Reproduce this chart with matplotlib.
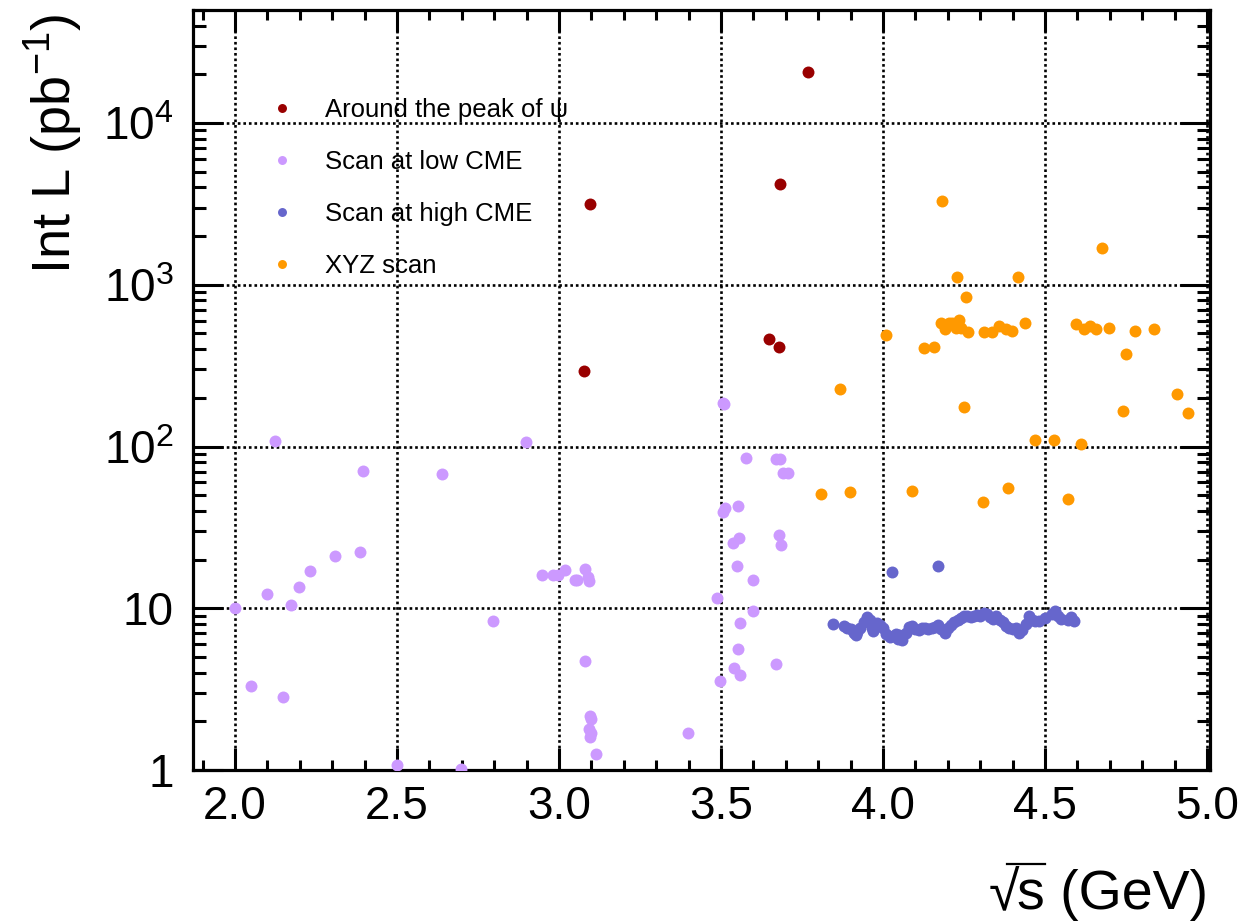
import matplotlib
matplotlib.use('Agg')
import matplotlib.pyplot as plt
from matplotlib.lines import Line2D
from matplotlib.ticker import MultipleLocator, LogLocator, FixedLocator, NullFormatter

plt.rcParams['font.family'] = ['Liberation Sans', 'DejaVu Sans']
plt.rcParams['mathtext.fontset'] = 'custom'
plt.rcParams['mathtext.rm'] = 'Liberation Sans'
plt.rcParams['mathtext.it'] = 'Liberation Sans:italic'
plt.rcParams['mathtext.bf'] = 'Liberation Sans:bold'

# ---------------- data ----------------
psi_x = [3.078, 3.096, 3.648, 3.680, 3.681, 3.768]
psi_y = [295, 3155, 462, 410, 4180, 20650]

low_x = [2.000, 2.049, 2.099, 2.124, 2.149, 2.174, 2.199, 2.230, 2.309, 2.386,
         2.394, 2.499, 2.639, 2.699, 2.797, 2.898, 2.948, 2.980, 2.998, 3.019,
         3.049, 3.057, 3.080, 3.080, 3.090, 3.092, 3.096, 3.098, 3.094, 3.100,
         3.097, 3.115, 3.398, 3.489, 3.497, 3.507, 3.512, 3.507, 3.509, 3.536,
         3.540, 3.548, 3.551, 3.552, 3.554, 3.557, 3.560, 3.577, 3.598, 3.598,
         3.670, 3.670, 3.680, 3.682, 3.685, 3.690, 3.708]
low_y = [10.0, 3.3, 12.2, 108, 2.83, 10.5, 13.6, 17.1, 21.0, 22.4,
         71, 1.08, 68, 1.01, 8.4, 106, 16.0, 16.0, 16.0, 17.3,
         14.9, 14.9, 17.5, 4.73, 15.5, 14.8, 2.16, 2.07, 1.80, 1.70,
         1.59, 1.25, 1.70, 11.6, 3.57, 39.6, 41.6, 185, 182, 25.5,
         4.28, 18.2, 5.56, 42.7, 27.3, 8.15, 3.88, 84.6, 14.9, 9.55,
         4.55, 83.7, 28.3, 83.7, 24.6, 69, 69]

high_x = [3.847, 3.880, 3.890, 3.900, 3.910, 3.915, 3.920, 3.930, 3.940, 3.950,
          3.960, 3.965, 3.970, 3.980, 3.990, 4.000, 4.010, 4.020, 4.029, 4.030,
          4.040, 4.045, 4.050, 4.060, 4.070, 4.080, 4.090, 4.100, 4.110, 4.120,
          4.130, 4.140, 4.150, 4.160, 4.169, 4.170, 4.180, 4.190, 4.200, 4.210,
          4.220, 4.230, 4.240, 4.250, 4.260, 4.270, 4.280, 4.290, 4.300, 4.310,
          4.320, 4.330, 4.340, 4.350, 4.360, 4.370, 4.380, 4.390, 4.400, 4.410,
          4.420, 4.430, 4.440, 4.450, 4.460, 4.470, 4.480, 4.500, 4.520, 4.530,
          4.540, 4.550, 4.570, 4.580, 4.590]
high_y = [7.95, 7.8, 7.6, 7.4, 7.0, 6.8, 7.1, 7.6, 8.2, 8.8,
          8.5, 7.6, 7.2, 8.1, 7.9, 7.5, 6.9, 6.6, 16.7, 6.7,
          6.9, 6.5, 6.8, 6.4, 7.0, 7.7, 7.8, 7.4, 7.3, 7.5,
          7.6, 7.4, 7.6, 7.7, 18.2, 7.9, 7.4, 7.0, 7.5, 7.9,
          8.2, 8.5, 8.7, 8.9, 9.0, 8.8, 8.9, 9.1, 9.0, 9.4,
          9.2, 8.8, 8.6, 8.9, 8.5, 8.2, 7.8, 7.5, 7.4, 7.6,
          7.0, 7.3, 8.0, 8.9, 8.5, 8.3, 8.4, 8.7, 9.2, 9.6,
          9.0, 8.6, 8.5, 8.8, 8.4]

xyz_x = [3.809, 3.868, 3.898, 4.008, 4.088, 4.127, 4.158, 4.182, 4.178, 4.190,
         4.203, 4.213, 4.226, 4.235, 4.228, 4.242, 4.250, 4.257, 4.262, 4.309,
         4.311, 4.336, 4.359, 4.378, 4.387, 4.398, 4.417, 4.439, 4.468, 4.528,
         4.572, 4.596, 4.610, 4.619, 4.639, 4.657, 4.676, 4.698, 4.740, 4.751,
         4.779, 4.837, 4.907, 4.940]
xyz_y = [50.6, 227, 52.5, 486, 52.8, 406, 414, 3280, 581, 533,
         581, 581, 538, 609, 1120, 538, 176, 842, 508, 45.3,
         508, 513, 556, 530, 55.6, 515, 1117, 581, 110, 110,
         47.5, 575, 104, 530, 558, 533, 1700, 543, 167, 371,
         521, 533, 210, 162]

labels = ['Around the peak of ψ', 'Scan at low CME', 'Scan at high CME', 'XYZ scan']
colors = ['#990000', '#cc99ff', '#6666cc', '#ff9900']

x_ticks = [2.0, 2.5, 3.0, 3.5, 4.0, 4.5, 5.0]
y_ticks = [1, 10, 100, 1000, 10000]
y_tick_labels = ['1', '10', '$10^{2}$', '$10^{3}$', '$10^{4}$']

# ---------------- figure ----------------
W, H = 1258, 923
fig = plt.figure(figsize=(W / 100, H / 100), dpi=100)
ax = fig.add_axes([193 / W, 1 - 770 / H, (1210 - 193) / W, (770 - 10) / H])

series = [(psi_x, psi_y), (low_x, low_y), (high_x, high_y), (xyz_x, xyz_y)]
handles = []
for (sx, sy), lab, col in zip(series, labels, colors):
    h, = ax.plot(sx, sy, ls='none', marker='o', markersize=8.6,
                 markeredgewidth=0, color=col, label=lab, zorder=3)
    handles.append(h)

ax.set_yscale('log')
ax.set_xlim(1.8704, 5.009)
ax.set_ylim(1, 5.0e4)

ax.xaxis.set_major_locator(FixedLocator(x_ticks))
ax.xaxis.set_minor_locator(MultipleLocator(0.1))
ax.set_xticklabels([f'{v:.1f}' for v in x_ticks])
ax.yaxis.set_major_locator(FixedLocator(y_ticks))
ax.yaxis.set_minor_locator(LogLocator(base=10, subs=range(2, 10), numticks=20))
ax.yaxis.set_minor_formatter(NullFormatter())
ax.set_yticklabels(y_tick_labels)

ax.tick_params(axis='both', which='both', direction='in', top=True, right=True,
               width=2.2, colors='black', labelsize=33)
ax.tick_params(axis='x', which='major', length=16, pad=11)
ax.tick_params(axis='x', which='minor', length=7.5)
ax.tick_params(axis='y', which='major', length=21.6, pad=14)
ax.tick_params(axis='y', which='minor', length=9.5)

for sp in ax.spines.values():
    sp.set_linewidth(2.3)
    sp.set_color('black')

ax.grid(which='major', color='black', linestyle=(0, (1.0, 1.1)), linewidth=1.9, zorder=1)
ax.set_axisbelow(True)

# y axis title
fig.text(54 / W, 1 - 14 / H, 'Int L (pb$^{-1}$)', rotation=90, ha='center', va='top', fontsize=39)

# x axis title: "√s (GeV)" with an overbar over the s, right-aligned at the frame edge
xfs = 40
renderer = fig.canvas.get_renderer()
base_y = 1 - 909 / H
t_root = fig.text(0, base_y, '√', fontsize=xfs, va='baseline', ha='left')
t_rest = fig.text(0, base_y, 's (GeV)', fontsize=xfs, va='baseline', ha='left')
t_s = fig.text(0, base_y, 's', fontsize=xfs, va='baseline', ha='left', alpha=0)
w_root = t_root.get_window_extent(renderer).width
w_rest = t_rest.get_window_extent(renderer).width
w_s = t_s.get_window_extent(renderer).width
right_px = 1208
left_px = right_px - w_rest - w_root + 2
t_root.set_x(left_px / W)
t_rest.set_x((left_px + w_root - 2) / W)
t_s.set_visible(False)
bar_y = (H - 864) / H
bar_x0 = (left_px + w_root * 0.62) / W
bar_x1 = (left_px + w_root - 2 + w_s) / W
fig.add_artist(Line2D([bar_x0, bar_x1], [bar_y, bar_y], transform=fig.transFigure,
                      color='black', linewidth=1.6))

fs = 18.5
fig.legend(handles=handles, labels=labels, loc='upper left',
           bbox_to_anchor=(269 / W, 1 - 98 / H), frameon=False,
           fontsize=fs, handlelength=1.0, handletextpad=1.18,
           labelspacing=1.09, borderpad=0, borderaxespad=0,
           markerscale=0.75)

fig.savefig('out.png', dpi=100)
